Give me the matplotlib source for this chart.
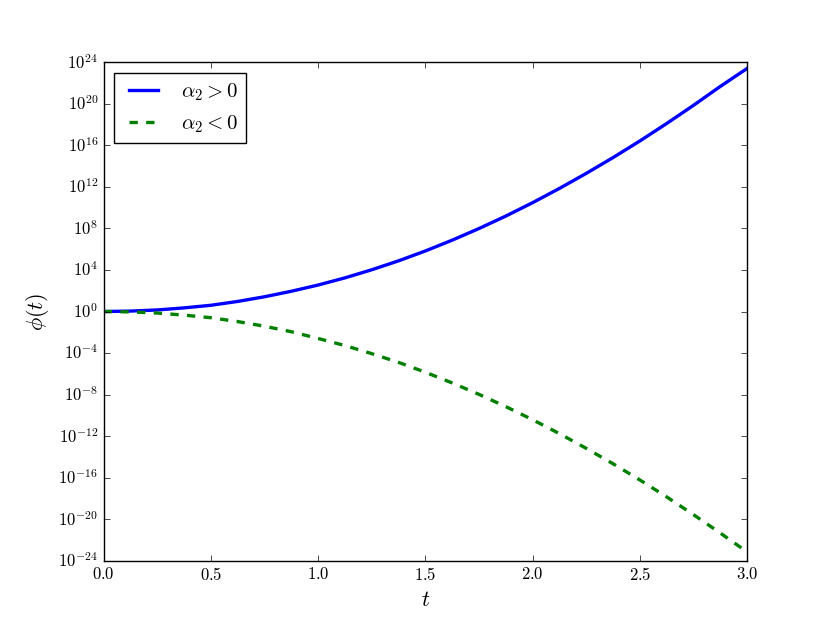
import numpy as np
import matplotlib
matplotlib.use("Agg")
import matplotlib.pyplot as plt
from matplotlib.ticker import NullLocator, FixedLocator

# t values and log10(phi)
t = [0.0, 0.125, 0.25, 0.375, 0.5, 0.625, 0.75, 0.875, 1.0, 1.125, 1.25, 1.375, 1.5,
     1.625, 1.75, 1.875, 2.0, 2.125, 2.25, 2.375, 2.5, 2.625, 2.75, 2.875, 3.0]
logPhiPos = [0.0, 0.04, 0.15, 0.35, 0.6, 0.97, 1.42, 1.95, 2.55, 3.24, 4.02, 4.88, 5.83,
             6.87, 7.99, 9.19, 10.48, 11.85, 13.3, 14.82, 16.42, 18.1, 19.85, 21.67, 23.4]
logPhiNeg = [0.0, -0.04, -0.15, -0.35, -0.6, -0.97, -1.42, -1.95, -2.6, -3.28, -4.06, -4.9, -5.85,
             -6.88, -7.98, -9.16, -10.42, -11.76, -13.18, -14.66, -16.22, -17.85, -19.56, -21.33, -23.15]
labels = [r"$\alpha_2 > 0$", r"$\alpha_2 < 0$"]
yTicks = list(range(-24, 25, 4))

plt.style.use("classic")
plt.rcParams["font.family"] = "serif"
plt.rcParams["font.serif"] = ["cmr10"]
plt.rcParams["mathtext.fontset"] = "cm"
plt.rcParams["axes.formatter.use_mathtext"] = True

fig = plt.figure(figsize=(8.3, 6.23), facecolor="white")
ax = fig.add_subplot(111)

ax.plot(t, 10.0 ** np.array(logPhiPos), "b-", lw=2.4, label=labels[0])
ax.plot(t, 10.0 ** np.array(logPhiNeg), "g--", lw=2.4, label=labels[1])

ax.set_yscale("log")
ax.set_xlim(0, 3)
ax.set_ylim(1e-24, 1e24)
ax.yaxis.set_major_locator(FixedLocator([10.0 ** k for k in yTicks]))
ax.yaxis.set_minor_locator(NullLocator())
ax.set_xticks([0.0, 0.5, 1.0, 1.5, 2.0, 2.5, 3.0])

ax.set_xlabel(r"$t$", fontsize=16)
ax.set_ylabel(r"$\phi(t)$", fontsize=16)
ax.legend(loc="upper left", fontsize=15)

fig.savefig("out.png", dpi=100, facecolor="white")
